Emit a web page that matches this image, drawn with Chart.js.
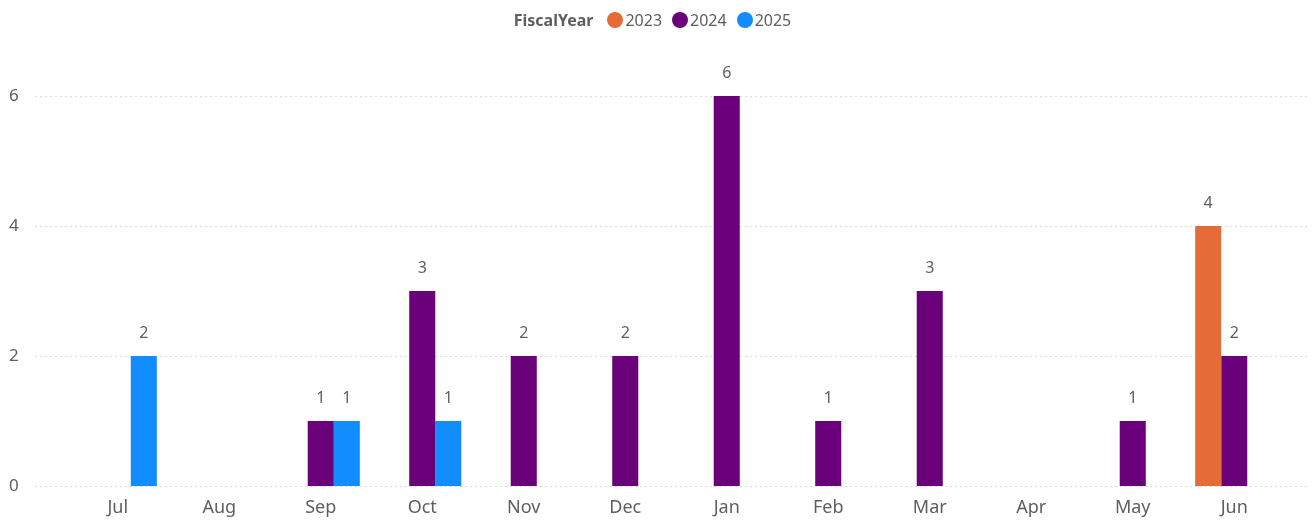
<!DOCTYPE html>
<html><head><meta charset="utf-8">
<script src="https://cdn.jsdelivr.net/npm/chart.js@4.4.1/dist/chart.umd.min.js"></script>
<style>
html,body{margin:0;padding:0;background:#fff;overflow:hidden;}
#wrap{position:relative;width:1315px;height:520px;}
#cw{position:absolute;left:0;top:0;width:1315px;height:520px;}
#legend{position:absolute;top:9px;left:0;width:1315px;display:flex;justify-content:center;align-items:center;font-family:'Segoe UI','Noto Sans',sans-serif;font-size:16px;color:#605E5C;z-index:2;}
#legend .title{font-weight:bold;margin-right:14px;color:#605E5C;}
#legend .item{display:flex;align-items:center;margin-right:10px;}
#legend .dot{width:16px;height:16px;border-radius:50%;margin-right:2px;}
</style></head>
<body><div id="wrap"><div id="legend"></div><div id="cw"><canvas id="c"></canvas></div></div>
<script>
const categories = ['Jul','Aug','Sep','Oct','Nov','Dec','Jan','Feb','Mar','Apr','May','Jun'];
const seriesNames = ['2023','2024','2025'];
const fy2023 = [null,null,null,null,null,null,null,null,null,null,null,4];
const fy2024 = [null,null,1,3,2,2,6,1,3,null,1,2];
const fy2025 = [2,null,1,1,null,null,null,null,null,null,null,null];
const yTicks = [0,2,4,6];
const colors = ['#E66C37','#6B007B','#118DFF'];
const legendTitle = 'FiscalYear';

const FONT = "'Segoe UI','Noto Sans',sans-serif";
const TXT = '#605E5C';

const lg = document.getElementById('legend');
const t = document.createElement('span'); t.className='title'; t.textContent=legendTitle; lg.appendChild(t);
seriesNames.forEach((n,i)=>{
  const it=document.createElement('span'); it.className='item';
  const d=document.createElement('span'); d.className='dot'; d.style.background=colors[i];
  const s=document.createElement('span'); s.textContent=n;
  it.appendChild(d); it.appendChild(s); lg.appendChild(it);
});

const gridPlugin = {
  id:'extGrid',
  beforeDatasetsDraw(chart){
    const ctx=chart.ctx, y=chart.scales.y;
    ctx.save();
    ctx.strokeStyle='#D9D9D9'; ctx.lineWidth=1; ctx.setLineDash([2,3]);
    yTicks.forEach(v=>{
      const py=Math.round(y.getPixelForValue(v))+0.5;
      ctx.beginPath(); ctx.moveTo(35,py); ctx.lineTo(1310,py); ctx.stroke();
    });
    ctx.restore();
  }
};
const labelPlugin = {
  id:'barLabels',
  afterDatasetsDraw(chart){
    const ctx=chart.ctx;
    ctx.save();
    ctx.font='16px '+FONT; ctx.fillStyle=TXT; ctx.textAlign='center'; ctx.textBaseline='middle';
    chart.data.datasets.forEach((ds,di)=>{
      chart.getDatasetMeta(di).data.forEach((el,i)=>{
        const v=ds.data[i];
        if(v==null) return;
        ctx.fillText(String(v), el.x, el.y-23);
      });
    });
    ctx.restore();
  }
};

new Chart(document.getElementById('c'),{
  type:'bar',
  data:{
    labels:categories,
    datasets:[
      {label:seriesNames[0],data:fy2023,backgroundColor:colors[0]},
      {label:seriesNames[1],data:fy2024,backgroundColor:colors[1]},
      {label:seriesNames[2],data:fy2025,backgroundColor:colors[2]}
    ]
  },
  options:{
    responsive:true,maintainAspectRatio:false,animation:false,
    categoryPercentage:0.77,barPercentage:1,
    layout:{padding:{top:96,right:30,left:9,bottom:0}},
    plugins:{legend:{display:false},tooltip:{enabled:false}},
    scales:{
      x:{
        grid:{display:false,drawTicks:false},border:{display:false},
        ticks:{font:{family:FONT,size:18},color:TXT,padding:11,maxRotation:0,autoSkip:false},
        afterFit(s){s.height=34;}
      },
      y:{
        min:0,max:6,
        afterBuildTicks(s){s.ticks=yTicks.map(v=>({value:v}));},
        grid:{display:false,drawTicks:false},border:{display:false},
        ticks:{font:{family:FONT,size:17},color:TXT,padding:0,crossAlign:'far'},
        afterFit(s){s.width=58;}
      }
    }
  },
  plugins:[gridPlugin,labelPlugin]
});
</script></body></html>
